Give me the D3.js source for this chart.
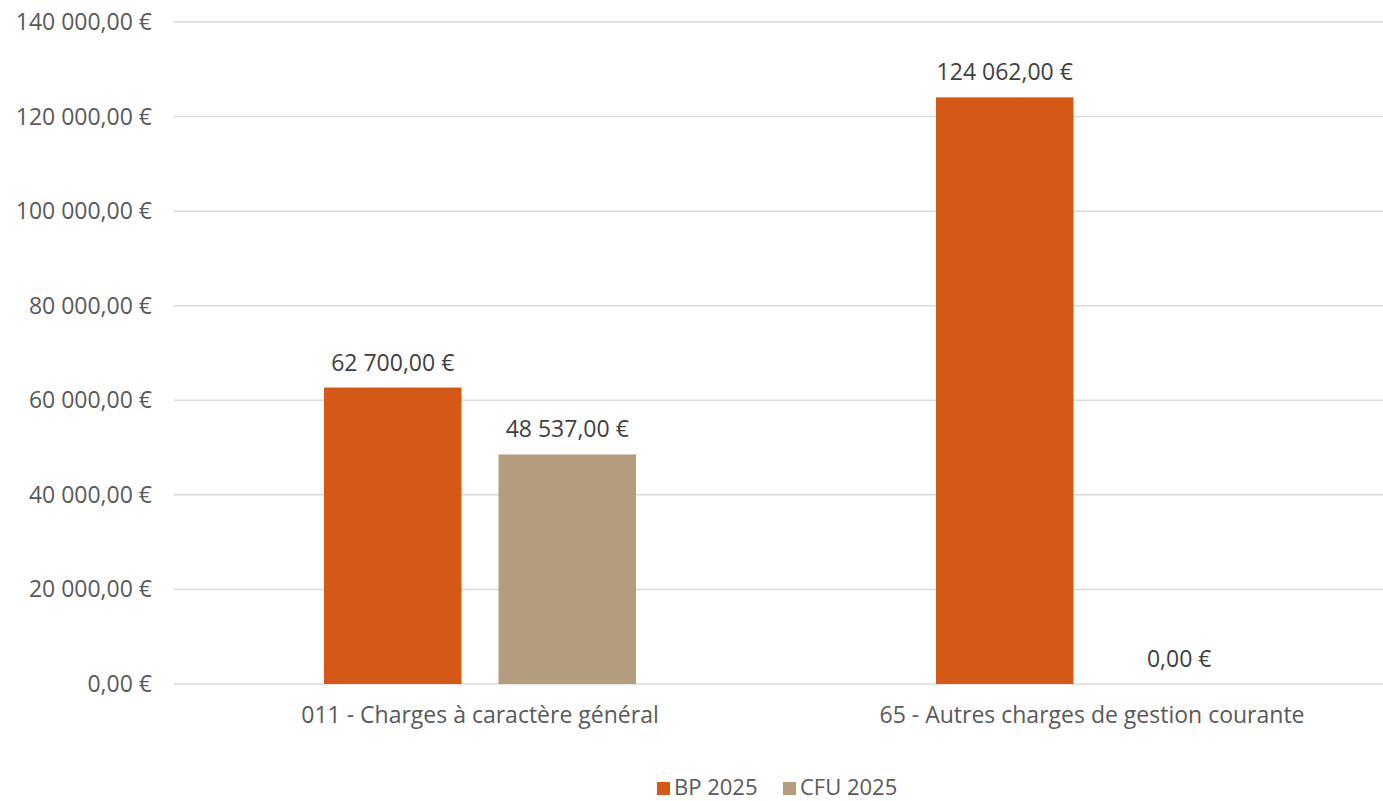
<!DOCTYPE html>
<html>
<head>
<meta charset="utf-8">
<script src="https://cdn.jsdelivr.net/npm/d3@7"></script>
<style>
  body { margin: 0; background: #fff; }
  svg { display: block; font-family: "Open Sans", sans-serif; }
</style>
</head>
<body>
<div id="chart"></div>
<script>
const categories = ["011 - Charges à caractère général", "65 - Autres charges de gestion courante"];
const seriesNames = ["BP 2025", "CFU 2025"];
const bp2025 = [62700, 124062];
const cfu2025 = [48537, 0];
const yTicks = [0, 20000, 40000, 60000, 80000, 100000, 120000, 140000];
const colors = ["#d55816", "#b39d7e"];

const width = 1383, height = 801;
const margin = { left: 174, top: 22, bottom: 117 };

const svg = d3.select("#chart").append("svg")
  .attr("width", width)
  .attr("height", height);

const y = d3.scaleLinear().domain([0, 140000]).range([height - margin.bottom, margin.top]);
const x0 = d3.scaleBand().domain(categories).range([margin.left, margin.left + 1224]);
const x1 = d3.scaleBand().domain(seriesNames).range([150, 462]).paddingInner(0.212);

const fmt = v => {
  const s = d3.format(",.2f")(v);
  return s.replace(/,/g, " ").replace(".", ",") + " €";
};

// gridlines
svg.append("g").selectAll("line")
  .data(yTicks)
  .join("line")
  .attr("x1", margin.left)
  .attr("x2", width)
  .attr("y1", d => y(d))
  .attr("y2", d => y(d))
  .attr("stroke", "#d9d9d9")
  .attr("stroke-width", 1.5);

// y labels
svg.append("g").selectAll("text")
  .data(yTicks)
  .join("text")
  .attr("x", 152)
  .attr("y", d => y(d))
  .attr("dy", "0.35em")
  .attr("text-anchor", "end")
  .attr("fill", "#595959")
  .style("font-size", "23px")
  .text(d => fmt(d));

const rows = categories.map((c, i) => ({ cat: c, values: [bp2025[i], cfu2025[i]] }));

const groups = svg.append("g").selectAll("g")
  .data(rows)
  .join("g")
  .attr("transform", d => "translate(" + x0(d.cat) + ",0)");

groups.selectAll("rect")
  .data(d => d.values.map((v, j) => ({ key: seriesNames[j], v: v, j: j })))
  .join("rect")
  .attr("x", d => x1(d.key))
  .attr("width", x1.bandwidth())
  .attr("y", d => y(d.v))
  .attr("height", d => y(0) - y(d.v))
  .attr("fill", d => colors[d.j]);

groups.selectAll("text")
  .data(d => d.values.map((v, j) => ({ key: seriesNames[j], v: v })))
  .join("text")
  .attr("x", d => x1(d.key) + x1.bandwidth() / 2)
  .attr("y", d => y(d.v) - 17)
  .attr("text-anchor", "middle")
  .attr("fill", "#404040")
  .style("font-size", "23px")
  .text(d => fmt(d.v));

// category labels
svg.append("g").selectAll("text")
  .data(categories)
  .join("text")
  .attr("x", d => x0(d) + 306)
  .attr("y", 723)
  .attr("text-anchor", "middle")
  .attr("fill", "#595959")
  .style("font-size", "23px")
  .text(d => d);

// legend
const legend = svg.append("g");
const legX = [657, 783];
seriesNames.forEach((s, i) => {
  legend.append("rect")
    .attr("x", legX[i]).attr("y", 782)
    .attr("width", 13).attr("height", 13)
    .attr("fill", colors[i]);
  legend.append("text")
    .attr("x", legX[i] + 17).attr("y", 795)
    .attr("fill", "#595959")
    .style("font-size", "22px")
    .text(s);
});
</script>
</body>
</html>
